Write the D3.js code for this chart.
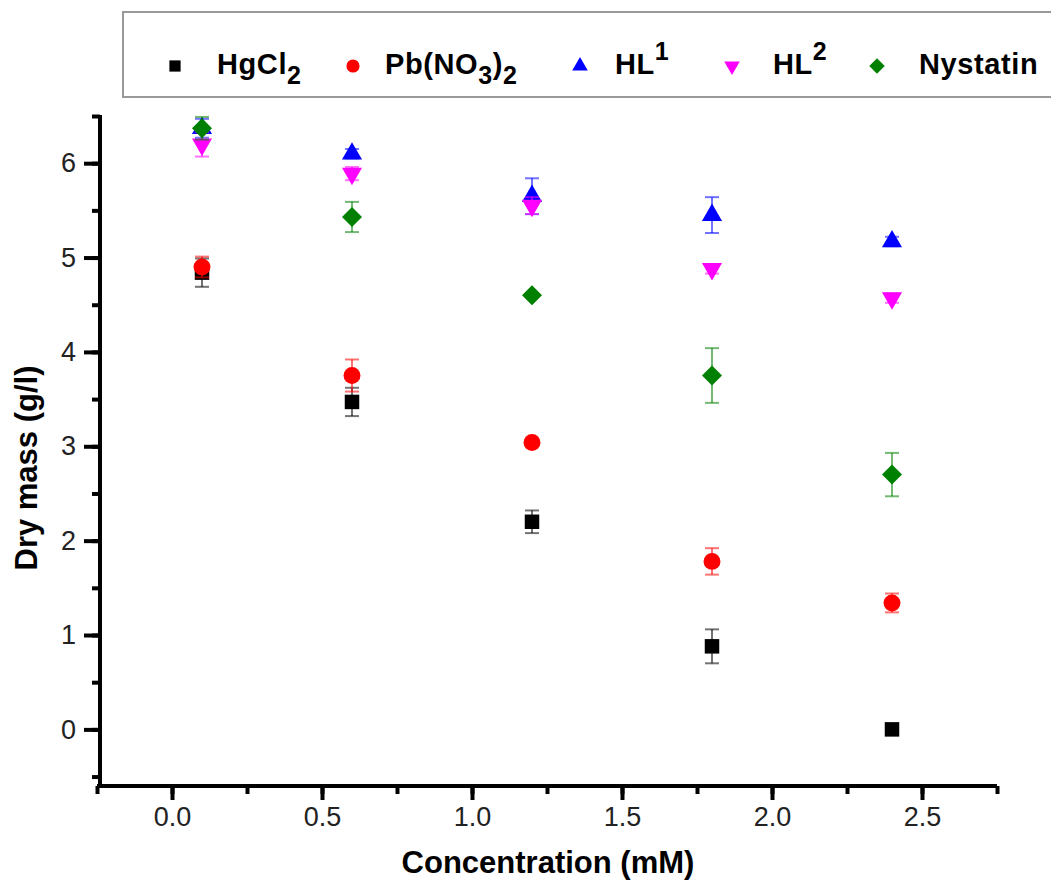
<!DOCTYPE html>
<html>
<head>
<meta charset="utf-8">
<script src="https://cdn.jsdelivr.net/npm/d3@7"></script>
<style>
  body { margin: 0; background: #fff; }
  svg { font-family: "Liberation Sans", Arial, sans-serif; }
  .tk text { font-size: 27px; fill: #222; }
  .tk line, .tk path { stroke-width: 4px; }
</style>
</head>
<body>
<div id="chart"></div>
<script>
var width = 1051;
var height = 881;

// data
var concentrations = [0.1, 0.6, 1.2, 1.8, 2.4];
var seriesNames = ["HgCl2", "Pb(NO3)2", "HL1", "HL2", "Nystatin"];
var hgcl2 = [4.84, 3.47, 2.20, 0.88, 0.00];
var hgcl2Err = [0.15, 0.15, 0.12, 0.18, 0.0];
var pbno3 = [4.90, 3.75, 3.04, 1.78, 1.34];
var pbno3Err = [0.11, 0.17, 0.04, 0.14, 0.10];
var hl1 = [6.37, 6.10, 5.65, 5.45, 5.17];
var hl1Err = [0.10, 0.05, 0.19, 0.19, 0.05];
var hl2 = [6.20, 5.89, 5.55, 4.88, 4.57];
var hl2Err = [0.13, 0.07, 0.09, 0.05, 0.05];
var nystatin = [6.37, 5.43, 4.60, 3.75, 2.70];
var nystatinErr = [0.12, 0.16, 0.02, 0.29, 0.23];
var xTicks = [0, 0.5, 1.0, 1.5, 2.0, 2.5];
var yTicks = [0, 1, 2, 3, 4, 5, 6];

var series = [
  {name: "HgCl2", vals: hgcl2, err: hgcl2Err, color: "#000000", sym: d3.symbolSquare, size: 210, rot: 0},
  {name: "Pb(NO3)2", vals: pbno3, err: pbno3Err, color: "#ff0000", sym: d3.symbolCircle, size: 225, rot: 0},
  {name: "HL1", vals: hl1, err: hl1Err, color: "#0000ff", sym: d3.symbolTriangle, size: 175, rot: 0},
  {name: "HL2", vals: hl2, err: hl2Err, color: "#ff00ff", sym: d3.symbolTriangle, size: 175, rot: 180},
  {name: "Nystatin", vals: nystatin, err: nystatinErr, color: "#008000", sym: d3.symbolSquare, size: 200, rot: 45}
];

var svg = d3.select("#chart").append("svg")
  .attr("width", width)
  .attr("height", height);

var x = d3.scaleLinear().domain([-0.25, 2.75]).range([97, 997]);
var y = d3.scaleLinear().domain([-0.6, 6.5]).range([786, 116]);

// minor ticks
svg.append("g").attr("class", "tk")
  .attr("transform", "translate(0,786)")
  .call(d3.axisBottom(x).tickValues(d3.range(-0.25, 2.76, 0.25)).tickSize(8).tickFormat(""))
  .call(function(g) { g.select(".domain").remove(); });
svg.append("g").attr("class", "tk")
  .attr("transform", "translate(100,0)")
  .call(d3.axisLeft(y).tickValues(d3.range(-0.5, 6.6, 0.5)).tickSize(8).tickFormat(""))
  .call(function(g) { g.select(".domain").remove(); });

var xAxis = svg.append("g").attr("class", "tk")
  .attr("transform", "translate(0,786)")
  .call(d3.axisBottom(x).tickValues(xTicks).tickSize(14).tickPadding(7).tickFormat(d3.format(".1f")));
xAxis.select(".domain").attr("d", "M97,0H997");

var yAxis = svg.append("g").attr("class", "tk")
  .attr("transform", "translate(100,0)")
  .call(d3.axisLeft(y).tickValues(yTicks).tickSize(16).tickPadding(8));
yAxis.select(".domain").attr("d", "M0,115V788");

// axis titles
svg.append("text")
  .attr("x", 548).attr("y", 873)
  .attr("text-anchor", "middle")
  .attr("font-size", 31).attr("font-weight", "bold")
  .text("Concentration (mM)");
svg.append("text")
  .attr("transform", "translate(37,468) rotate(-90)")
  .attr("text-anchor", "middle")
  .attr("font-size", 31).attr("font-weight", "bold")
  .text("Dry mass (g/l)");

// error bars + markers
series.forEach(function(s) {
  var g = svg.append("g");
  var pts = concentrations.map(function(c, i) { return {x: c, v: s.vals[i], e: s.err[i]}; });
  var eb = g.selectAll(".eb").data(pts.filter(function(d) { return d.e > 0; })).enter().append("g")
    .attr("stroke", s.color).attr("stroke-opacity", 0.55).attr("stroke-width", 2);
  eb.append("line")
    .attr("x1", function(d) { return x(d.x); }).attr("x2", function(d) { return x(d.x); })
    .attr("y1", function(d) { return y(d.v - d.e); }).attr("y2", function(d) { return y(d.v + d.e); });
  eb.append("line")
    .attr("x1", function(d) { return x(d.x) - 7; }).attr("x2", function(d) { return x(d.x) + 7; })
    .attr("y1", function(d) { return y(d.v + d.e); }).attr("y2", function(d) { return y(d.v + d.e); });
  eb.append("line")
    .attr("x1", function(d) { return x(d.x) - 7; }).attr("x2", function(d) { return x(d.x) + 7; })
    .attr("y1", function(d) { return y(d.v - d.e); }).attr("y2", function(d) { return y(d.v - d.e); });
  g.selectAll(".pt").data(pts).enter().append("path")
    .attr("d", d3.symbol().type(s.sym).size(s.size))
    .attr("transform", function(d) { return "translate(" + x(d.x) + "," + y(d.v) + ") rotate(" + s.rot + ")"; })
    .attr("fill", s.color);
});

// legend
var legend = svg.append("g");
legend.append("rect")
  .attr("x", 123).attr("y", 12).attr("width", 940).attr("height", 85)
  .attr("fill", "#fff").attr("stroke", "#999").attr("stroke-width", 2);

var legendX = [175, 353, 580, 732, 877];
var textX = [217, 385, 615, 773, 919];
var legendText = [
  [["HgCl", 0], ["2", 1]],
  [["Pb(NO", 0], ["3", 1], [")", 0], ["2", 1]],
  [["HL", 0], ["1", -1]],
  [["HL", 0], ["2", -1]],
  [["Nystatin", 0]]
];
series.forEach(function(s, i) {
  legend.append("path")
    .attr("d", d3.symbol().type(s.sym).size(s.size * 0.6))
    .attr("transform", "translate(" + legendX[i] + ",66) rotate(" + s.rot + ")")
    .attr("fill", s.color);
  var t = legend.append("text")
    .attr("x", textX[i]).attr("y", 74)
    .attr("font-size", 29).attr("font-weight", "bold")
    .attr("letter-spacing", 0.6);
  legendText[i].forEach(function(part, j) {
    var ts = t.append("tspan").text(part[0]);
    if (part[1] === 1) ts.attr("font-size", 25).attr("dy", 10);
    else if (part[1] === -1) ts.attr("font-size", 25).attr("dy", -14);
    else if (j > 0) ts.attr("dy", -10);
  });
});
</script>
</body>
</html>
